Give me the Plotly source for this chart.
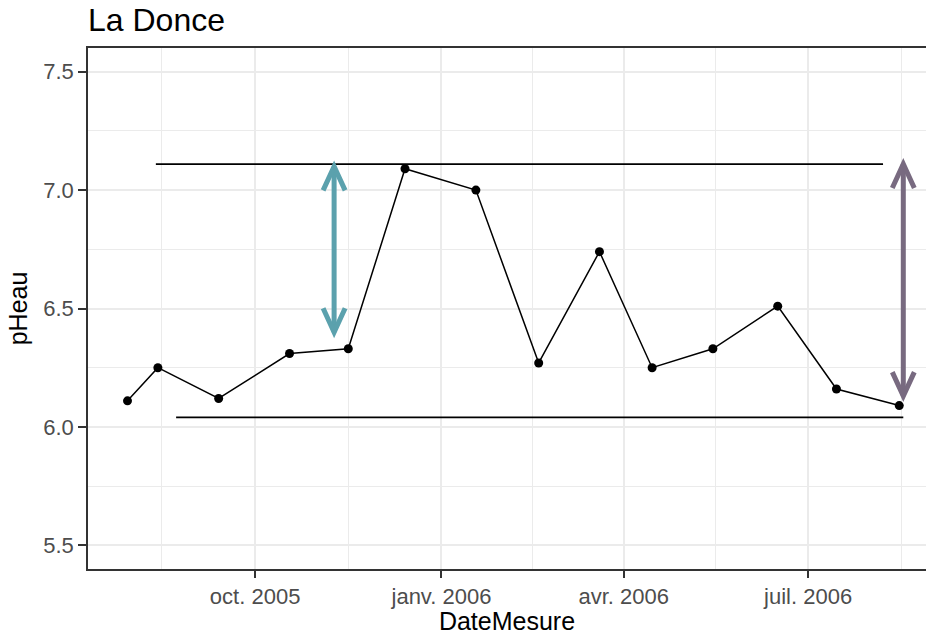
import pandas as pd
import plotly.graph_objects as go

# pH measurements, La Donce
dates = ["2005-07-30", "2005-08-14", "2005-09-13", "2005-10-18", "2005-11-16",
         "2005-12-14", "2006-01-18", "2006-02-18", "2006-03-20", "2006-04-15",
         "2006-05-15", "2006-06-16", "2006-07-15", "2006-08-15"]
ph = [6.11, 6.25, 6.12, 6.31, 6.33, 7.09, 7.00, 6.27, 6.74, 6.25, 6.33, 6.51, 6.16, 6.09]

# horizontal reference segments
level_high = 7.11
level_high_span = ["2005-08-13", "2006-08-07"]
level_low = 6.04
level_low_span = ["2005-08-23", "2006-08-17"]

# double-headed arrows: position, top end, bottom end, colour
arrow_dates = ["2005-11-09", "2006-08-17"]
arrow_top = [7.10, 7.11]
arrow_bottom = [6.40, 6.13]
arrow_colors = ["#5BA1AD", "#786A80"]

# axis breaks
x_breaks = ["2005-07-01", "2005-10-01", "2006-01-01", "2006-04-01", "2006-07-01", "2006-10-01"]
x_labels = ["juil. 2005", "oct. 2005", "janv. 2006", "avr. 2006", "juil. 2006", "oct. 2006"]
y_breaks = [5.5, 6.0, 6.5, 7.0, 7.5]
y_labels = ["5.5", "6.0", "6.5", "7.0", "7.5"]

x_range = ["2005-07-10 12:00", "2006-08-28 05:00"]
y_range = [5.4, 7.6]

# minor grid halfway between major breaks
xb = pd.to_datetime(x_breaks)
x_minor = [(xb[i] + (xb[i + 1] - xb[i]) / 2).strftime("%Y-%m-%d %H:%M") for i in range(len(xb) - 1)]
y_minor = [(y_breaks[i] + y_breaks[i + 1]) / 2 for i in range(len(y_breaks) - 1)]

FONT = "Liberation Sans, Arial, sans-serif"
GRID = "#EBEBEB"
BORDER = "#333333"

fig = go.Figure()

fig.add_trace(go.Scatter(
    x=dates, y=ph, mode="lines+markers",
    line=dict(color="black", width=1.5),
    marker=dict(color="black", size=9),
    showlegend=False, hoverinfo="x+y",
))

shapes = []
# reference segments
for lvl, span in ((level_high, level_high_span), (level_low, level_low_span)):
    shapes.append(dict(type="line", xref="x", yref="y",
                       x0=span[0], x1=span[1], y0=lvl, y1=lvl,
                       line=dict(color="black", width=1.8)))

# arrows: shaft plus open heads at both ends
for d, top, bot, col in zip(arrow_dates, arrow_top, arrow_bottom, arrow_colors):
    shapes.append(dict(type="line", xref="x", yref="y", x0=d, x1=d, y0=bot, y1=top,
                       line=dict(color=col, width=5)))
    shapes.append(dict(type="path", xref="x", yref="y", xsizemode="pixel", ysizemode="pixel",
                       xanchor=d, yanchor=top, path="M -11,-24 L 0,0 L 11,-24",
                       line=dict(color=col, width=5)))
    shapes.append(dict(type="path", xref="x", yref="y", xsizemode="pixel", ysizemode="pixel",
                       xanchor=d, yanchor=bot, path="M -11,24 L 0,0 L 11,24",
                       line=dict(color=col, width=5)))

fig.update_layout(
    width=926, height=635,
    margin=dict(l=88, r=0, t=48, b=66),
    paper_bgcolor="white", plot_bgcolor="white",
    font=dict(family=FONT, color="black"),
    title=dict(text="La Donce", x=0, xref="paper", xanchor="left",
               y=1 - 20 / 635, yanchor="middle", font=dict(size=32, color="black")),
    shapes=shapes,
    showlegend=False,
)

fig.update_xaxes(
    type="date", range=x_range,
    tickmode="array", tickvals=x_breaks, ticktext=x_labels,
    tickfont=dict(size=22, color="#4D4D4D"),
    ticks="outside", ticklen=7, tickwidth=1.6, tickcolor=BORDER,
    ticklabelstandoff=0,
    showgrid=True, gridcolor=GRID, gridwidth=1.6,
    minor=dict(tickmode="array", tickvals=x_minor, showgrid=True, gridcolor=GRID, gridwidth=1.1, ticks=""),
    showline=True, linecolor=BORDER, linewidth=1.6, mirror=True,
    zeroline=False,
    title=dict(text="DateMesure", font=dict(size=25, color="black"), standoff=6),
)

fig.update_yaxes(
    range=y_range,
    tickmode="array", tickvals=y_breaks, ticktext=y_labels,
    tickfont=dict(size=22, color="#4D4D4D"),
    ticks="outside", ticklen=8, tickwidth=1.6, tickcolor=BORDER,
    showgrid=True, gridcolor=GRID, gridwidth=1.6,
    minor=dict(tickmode="array", tickvals=y_minor, showgrid=True, gridcolor=GRID, gridwidth=1.1, ticks=""),
    showline=True, linecolor=BORDER, linewidth=1.6, mirror=False,
    zeroline=False,
    title=dict(text="pHeau", font=dict(size=25, color="black"), standoff=8),
)

fig.write_html("out.html")
